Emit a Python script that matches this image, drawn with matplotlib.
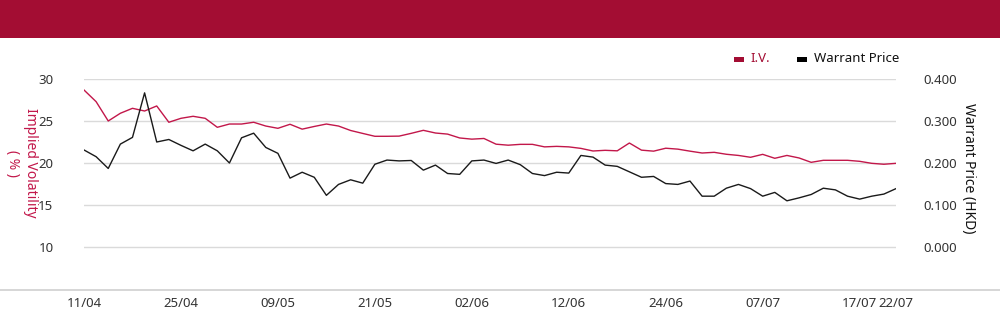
import matplotlib
matplotlib.use("Agg")
import matplotlib.pyplot as plt
from matplotlib.patches import Rectangle
from matplotlib.lines import Line2D
from matplotlib.ticker import FormatStrFormatter

dates = ["11/04","14/04","15/04","16/04","17/04","22/04","23/04","24/04","25/04","28/04","29/04","30/04",
         "02/05","06/05","07/05","08/05","09/05","12/05","13/05","14/05","15/05","16/05","19/05","20/05",
         "21/05","22/05","23/05","26/05","27/05","28/05","29/05","30/05",
         "02/06","03/06","04/06","05/06","06/06","09/06","10/06","11/06","12/06","13/06","16/06","17/06",
         "18/06","19/06","20/06","23/06","24/06","25/06","26/06","27/06","30/06",
         "02/07","03/07","04/07","07/07","08/07","09/07","10/07","11/07","14/07","15/07","16/07","17/07",
         "18/07","21/07","22/07"]

iv = [28.69, 27.30, 25.00, 25.92, 26.51, 26.19, 26.79, 24.85, 25.32, 25.56, 25.32, 24.25,
      24.64, 24.64, 24.85, 24.40, 24.13, 24.61, 24.03, 24.35, 24.64, 24.40, 23.87, 23.52,
      23.18, 23.18, 23.20, 23.53, 23.89, 23.57, 23.44, 22.98, 22.84, 22.92, 22.24, 22.12,
      22.22, 22.22, 21.92, 21.98, 21.92, 21.74, 21.43, 21.51, 21.45, 22.38, 21.53, 21.41,
      21.76, 21.65, 21.41, 21.19, 21.27, 21.04, 20.90, 20.68, 21.03, 20.56, 20.90, 20.60,
      20.08, 20.32, 20.32, 20.32, 20.20, 19.96, 19.85, 19.96]

price = [0.231, 0.215, 0.187, 0.245, 0.261, 0.367, 0.250, 0.256, 0.242, 0.229, 0.245, 0.229,
         0.200, 0.260, 0.271, 0.237, 0.223, 0.164, 0.178, 0.166, 0.123, 0.149, 0.160, 0.152,
         0.197, 0.207, 0.205, 0.206, 0.183, 0.195, 0.175, 0.173, 0.205, 0.207, 0.199, 0.207,
         0.196, 0.175, 0.170, 0.178, 0.176, 0.218, 0.214, 0.195, 0.192, 0.179, 0.166, 0.168,
         0.151, 0.149, 0.157, 0.121, 0.121, 0.140, 0.149, 0.139, 0.121, 0.130, 0.110, 0.117,
         0.125, 0.140, 0.136, 0.121, 0.114, 0.121, 0.126, 0.139]

tick_labels = ["11/04", "25/04", "09/05", "21/05", "02/06", "12/06", "24/06", "07/07", "17/07", "22/07"]
left_ticks = [10, 15, 20, 25, 30]
right_ticks = [0.0, 0.1, 0.2, 0.3, 0.4]

RED = "#C2174A"
HEAD = "#A30D33"
GRID = "#DADADA"
TXT = "#333333"

plt.rcParams['font.family'] = ['Noto Sans', 'DejaVu Sans']

fig = plt.figure(figsize=(10, 3.24), dpi=100)
W, H = 1000, 324

# header bar
fig.patches.append(Rectangle((0, (H - 38) / H), 1, 38 / H, transform=fig.transFigure,
                             facecolor=HEAD, edgecolor='none', zorder=0))
# bottom full-width line
fig.lines.append(Line2D([0, 1], [(H - 290) / H] * 2, transform=fig.transFigure,
                        color="#CFCFCF", lw=1.2))

ax = fig.add_axes([84 / W, (H - 289) / H, (896 - 84) / W, (289 - 79) / H])
ax2 = ax.twinx()

x = list(range(len(dates)))
ax.plot(x, iv, color=RED, lw=1.0, zorder=3)
ax2.plot(x, price, color="#1a1a1a", lw=1.0, zorder=3)

ax.set_xlim(0, len(dates) - 1)
ax.set_ylim(5, 30)
ax2.set_ylim(-0.1, 0.4)
ax.set_yticks(left_ticks)
ax2.set_yticks(right_ticks)
ax2.yaxis.set_major_formatter(FormatStrFormatter('%.3f'))

ax.set_xticks([dates.index(t) for t in tick_labels])
ax.set_xticklabels(tick_labels)

for a in (ax, ax2):
    for s in a.spines.values():
        s.set_visible(False)
    a.tick_params(length=0)
ax.tick_params(axis='y', pad=22, labelsize=9.5, labelcolor=TXT)
ax2.tick_params(axis='y', pad=20, labelsize=9.5, labelcolor=TXT)
ax.tick_params(axis='x', pad=6, labelsize=9.5, labelcolor=TXT)

ax.grid(axis='y', color=GRID, lw=1.0)
ax.set_axisbelow(True)

fig.text(30 / W, (H - 163) / H, "Implied Volatility", rotation=270, color=RED,
         fontsize=10, ha='center', va='center')
fig.text(12 / W, (H - 163) / H, "( % )", rotation=270, color=RED,
         fontsize=10, ha='center', va='center')
fig.text(968 / W, (H - 168) / H, "Warrant Price (HKD)", rotation=270, color="#111111",
         fontsize=10, ha='center', va='center')

# legend
ly = (H - 59) / H
fig.patches.append(Rectangle((734 / W, ly - 2.5 / H), 10 / W, 5 / H, transform=fig.transFigure,
                             facecolor=HEAD, edgecolor='none'))
fig.text(750 / W, ly, "I.V.", color=HEAD, fontsize=9.5, ha='left', va='center')
fig.patches.append(Rectangle((797 / W, ly - 2.5 / H), 10 / W, 5 / H, transform=fig.transFigure,
                             facecolor="#000000", edgecolor='none'))
fig.text(814 / W, ly, "Warrant Price", color="#111111", fontsize=9.5, ha='left', va='center')

fig.savefig("out.png", dpi=100)
